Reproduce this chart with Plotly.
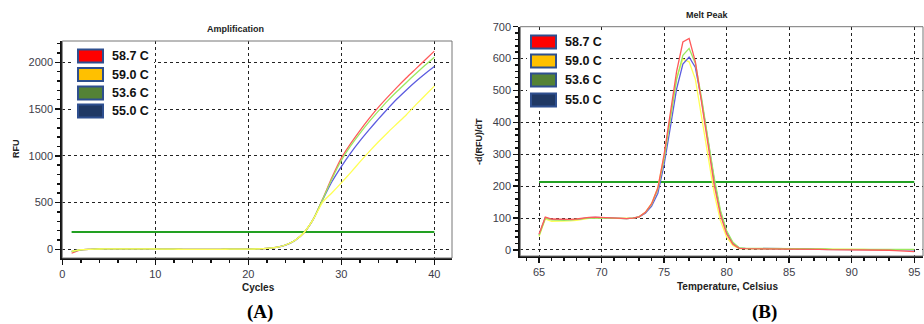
import plotly.graph_objects as go

# ---------------- data ----------------
series_names = ["58.7 C", "59.0 C", "53.6 C", "55.0 C"]
legend_colors = ["#ff0000", "#ffc000", "#548235", "#1f3864"]
line_colors = {"58.7 C": "#ff5a5a", "59.0 C": "#ffff55", "53.6 C": "#9be860", "55.0 C": "#5c5ce0"}

cycles = list(range(1, 41))
amp_587 = [-42, -6, 0, 3, 4, 5, 5, 5, 4, 3, 2, 1, 0, 0, 0, 0, 0, 1, 1, 2, 4, 9, 21, 46, 95, 180, 325,
           540, 770, 975, 1130, 1270, 1400, 1520, 1630, 1735, 1835, 1930, 2025, 2120]
amp_590 = [-20, -4, 0, 3, 4, 5, 5, 5, 4, 3, 2, 1, 0, 0, 0, 0, 0, 1, 1, 2, 4, 9, 21, 46, 95, 180, 322,
           505, 605, 710, 820, 935, 1045, 1150, 1250, 1345, 1440, 1545, 1645, 1745]
amp_536 = [-25, -5, 0, 3, 4, 5, 5, 5, 4, 3, 2, 1, 0, 0, 0, 0, 0, 1, 1, 2, 4, 9, 21, 46, 95, 180, 325,
           535, 755, 950, 1105, 1240, 1365, 1480, 1590, 1690, 1785, 1878, 1968, 2055]
amp_550 = [-22, -5, 0, 3, 4, 5, 5, 5, 4, 3, 2, 1, 0, 0, 0, 0, 0, 1, 1, 2, 4, 9, 21, 45, 93, 178, 322,
           530, 725, 885, 1030, 1160, 1280, 1395, 1505, 1610, 1705, 1795, 1878, 1955]
amp_threshold = 185
amp_threshold_x = [1, 40]

temps = [65.0, 65.5, 66.0, 66.5, 67.0, 67.5, 68.0, 68.5, 69.0, 69.5,
         70.0, 70.5, 71.0, 71.5, 72.0, 72.5, 73.0, 73.5, 74.0, 74.5,
         75.0, 75.5, 76.0, 76.5, 77.0, 77.5, 78.0, 78.5, 79.0, 79.5,
         80.0, 80.5, 81.0, 81.5, 82.0, 82.5, 83.0, 83.5, 84.0, 84.5,
         85.0, 85.5, 86.0, 86.5, 87.0, 87.5, 88.0, 88.5, 89.0, 89.5,
         90.0, 90.5, 91.0, 91.5, 92.0, 92.5, 93.0, 93.5, 94.0, 94.5,
         95.0]
melt_587 = [50, 103, 97, 96, 96, 96, 97, 100, 102, 103,
            102, 101, 99, 98, 98, 100, 104, 118, 145, 195,
            300, 430, 560, 652, 663, 590, 460, 330, 205, 110,
            50, 18, 5, 4, 4, 4, 4, 4, 3, 3,
            3, 3, 2, 2, 2, 2, 1, 1, 1, 1,
            1, 1, 1, 1, 0, 0, -1, -2, -3, -4,
            -5]
melt_590 = [42, 97, 90, 90, 90, 91, 93, 97, 99, 100,
            100, 100, 99, 98, 98, 100, 104, 118, 146, 196,
            295, 420, 540, 598, 590, 535, 415, 290, 178, 92,
            40, 14, 4, 4, 4, 3, 3, 3, 3, 3,
            3, 3, 2, 2, 2, 2, 2, 2, 2, 2,
            2, 2, 2, 1, 1, 1, 1, 1, 1, 1,
            1]
melt_536 = [45, 100, 94, 93, 93, 94, 95, 98, 100, 101,
            101, 100, 99, 98, 98, 100, 104, 117, 143, 190,
            285, 410, 535, 610, 632, 585, 475, 350, 228, 125,
            60, 24, 7, 5, 5, 5, 4, 4, 4, 4,
            3, 3, 3, 3, 3, 3, 3, 2, 2, 2,
            2, 2, 2, 2, 2, 2, 2, 2, 2, 2,
            2]
melt_550 = [48, 101, 96, 95, 95, 95, 96, 99, 101, 102,
            101, 100, 99, 98, 98, 100, 104, 115, 137, 178,
            268, 385, 505, 583, 605, 572, 468, 345, 220, 118,
            56, 21, 6, 5, 5, 4, 4, 4, 4, 3,
            3, 3, 3, 3, 2, 2, 2, 2, 2, 2,
            2, 2, 1, 1, 1, 1, 1, 1, 0, 0,
            0]
melt_threshold = 213
melt_threshold_x = [65, 95]

amp_series = {"58.7 C": amp_587, "59.0 C": amp_590, "53.6 C": amp_536, "55.0 C": amp_550}
melt_series = {"58.7 C": melt_587, "59.0 C": melt_590, "53.6 C": melt_536, "55.0 C": melt_550}
amp_order = ["58.7 C", "55.0 C", "53.6 C", "59.0 C"]
melt_order = ["59.0 C", "55.0 C", "53.6 C", "58.7 C"]

# ---------------- figure ----------------
fig = go.Figure()

fig.add_trace(go.Scatter(x=amp_threshold_x, y=[amp_threshold] * 2, mode="lines",
                         line=dict(color="#22a022", width=2), xaxis="x", yaxis="y",
                         showlegend=False, hoverinfo="skip"))
fig.add_trace(go.Scatter(x=melt_threshold_x, y=[melt_threshold] * 2, mode="lines",
                         line=dict(color="#22a022", width=2), xaxis="x2", yaxis="y2",
                         showlegend=False, hoverinfo="skip"))

for name in amp_order:
    fig.add_trace(go.Scatter(x=cycles, y=amp_series[name], mode="lines", name=name,
                             line=dict(color=line_colors[name], width=1.3, shape="spline", smoothing=0.6),
                             xaxis="x", yaxis="y", showlegend=False))
for name in melt_order:
    fig.add_trace(go.Scatter(x=temps, y=melt_series[name], mode="lines", name=name,
                             line=dict(color=line_colors[name], width=1.3),
                             xaxis="x2", yaxis="y2", showlegend=False))

W, H = 924, 324
tickfont = dict(family="Liberation Sans, Arial, sans-serif", size=11, color="#3c3c48")
common = dict(showgrid=True, gridcolor="#222", griddash="dot", gridwidth=1,
              zeroline=False, showline=True, linecolor="#111", linewidth=2,
              ticks="outside", ticklen=5, tickwidth=1.5, tickcolor="#111",
              tickfont=tickfont, mirror=False, automargin=False)

fig.update_layout(
    template="none",
    width=W, height=H, margin=dict(l=0, r=0, t=0, b=0, autoexpand=False),
    paper_bgcolor="white", plot_bgcolor="white", showlegend=False,
    xaxis=dict(domain=[62.3 / W, 452 / W], range=[0, 41.9], tick0=0, dtick=10,
               minor=dict(dtick=2, ticklen=3, ticks="outside", tickcolor="#111", showgrid=False),
               anchor="y", **common),
    yaxis=dict(domain=[1 - 258 / H, 1 - 41 / H], range=[-93, 2228], tick0=0, dtick=500,
               minor=dict(dtick=100, ticklen=3, ticks="outside", tickcolor="#111", showgrid=False),
               anchor="x", **common),
    xaxis2=dict(domain=[520.3 / W, 923 / W], range=[63.5, 95.7], tick0=65, dtick=5,
                minor=dict(dtick=1, ticklen=3, ticks="outside", tickcolor="#111", showgrid=False),
                anchor="y2", **common),
    yaxis2=dict(domain=[1 - 256 / H, 1 - 26.7 / H], range=[-19, 700], tick0=0, dtick=100,
                minor=dict(dtick=20, ticklen=3, ticks="outside", tickcolor="#111", showgrid=False),
                anchor="x2", **common),
)

# plot borders (top/right)
for xr, yr in [("x domain", "y domain"), ("x2 domain", "y2 domain")]:
    fig.add_shape(type="rect", xref=xr, yref=yr, x0=0, x1=1, y0=0, y1=1,
                  line=dict(color="#777", width=1), layer="above")

annots = []
lab = dict(family="Liberation Sans, Arial, sans-serif", size=10, color="#222")
def txt(x, y, s, font, angle=0):
    annots.append(dict(x=x / W, y=1 - y / H, xref="paper", yref="paper", text=s, showarrow=False,
                       font=font, textangle=angle, xanchor="center", yanchor="middle"))

txt(235, 29, "<b>Amplification</b>", dict(lab, size=9))
txt(707, 15, "<b>Melt Peak</b>", dict(lab, size=9))
txt(16, 149, "<b>RFU</b>", dict(lab, size=9), -90)
txt(479, 142, "<b>-d(RFU)/dT</b>", dict(lab, size=9), -90)
txt(258, 287, "<b>Cycles</b>", dict(lab, size=10))
txt(727, 286, "<b>Temperature, Celsius</b>", dict(lab, size=10))
serif = dict(family="Liberation Serif, Times New Roman, serif", size=19, color="#000")
txt(260, 312, "<b>(A)</b>", serif)
txt(764, 312, "<b>(B)</b>", serif)

# legends
legfont = dict(family="Liberation Sans, Arial, sans-serif", size=12.5, color="#111")
def legend(x0, ys, xt, bg_x1):
    fig.add_shape(type="rect", xref="paper", yref="paper",
                  x0=(x0 - 4) / W, x1=bg_x1 / W, y0=1 - (ys[-1] + 10) / H, y1=1 - (ys[0] - 10) / H,
                  fillcolor="white", line=dict(width=0), layer="above")
    for name, col, yc in zip(series_names, legend_colors, ys):
        fig.add_shape(type="rect", xref="paper", yref="paper",
                      x0=x0 / W, x1=(x0 + 25) / W, y0=1 - (yc + 6.5) / H, y1=1 - (yc - 6.5) / H,
                      fillcolor=col, line=dict(color="#2e4f8f", width=2), layer="above")
        annots.append(dict(x=xt / W, y=1 - yc / H, xref="paper", yref="paper", text="<b>" + name + "</b>",
                           showarrow=False, font=legfont, xanchor="left", yanchor="middle"))

legend(78, [56, 74.5, 93, 111], 110, 154)
legend(531, [42, 61, 80, 100], 563, 607)

fig.update_layout(annotations=annots)
fig.write_html("out.html", config={"displayModeBar": False, "staticPlot": True},
               post_script="document.body.style.margin='0';document.body.style.overflow='hidden';")
